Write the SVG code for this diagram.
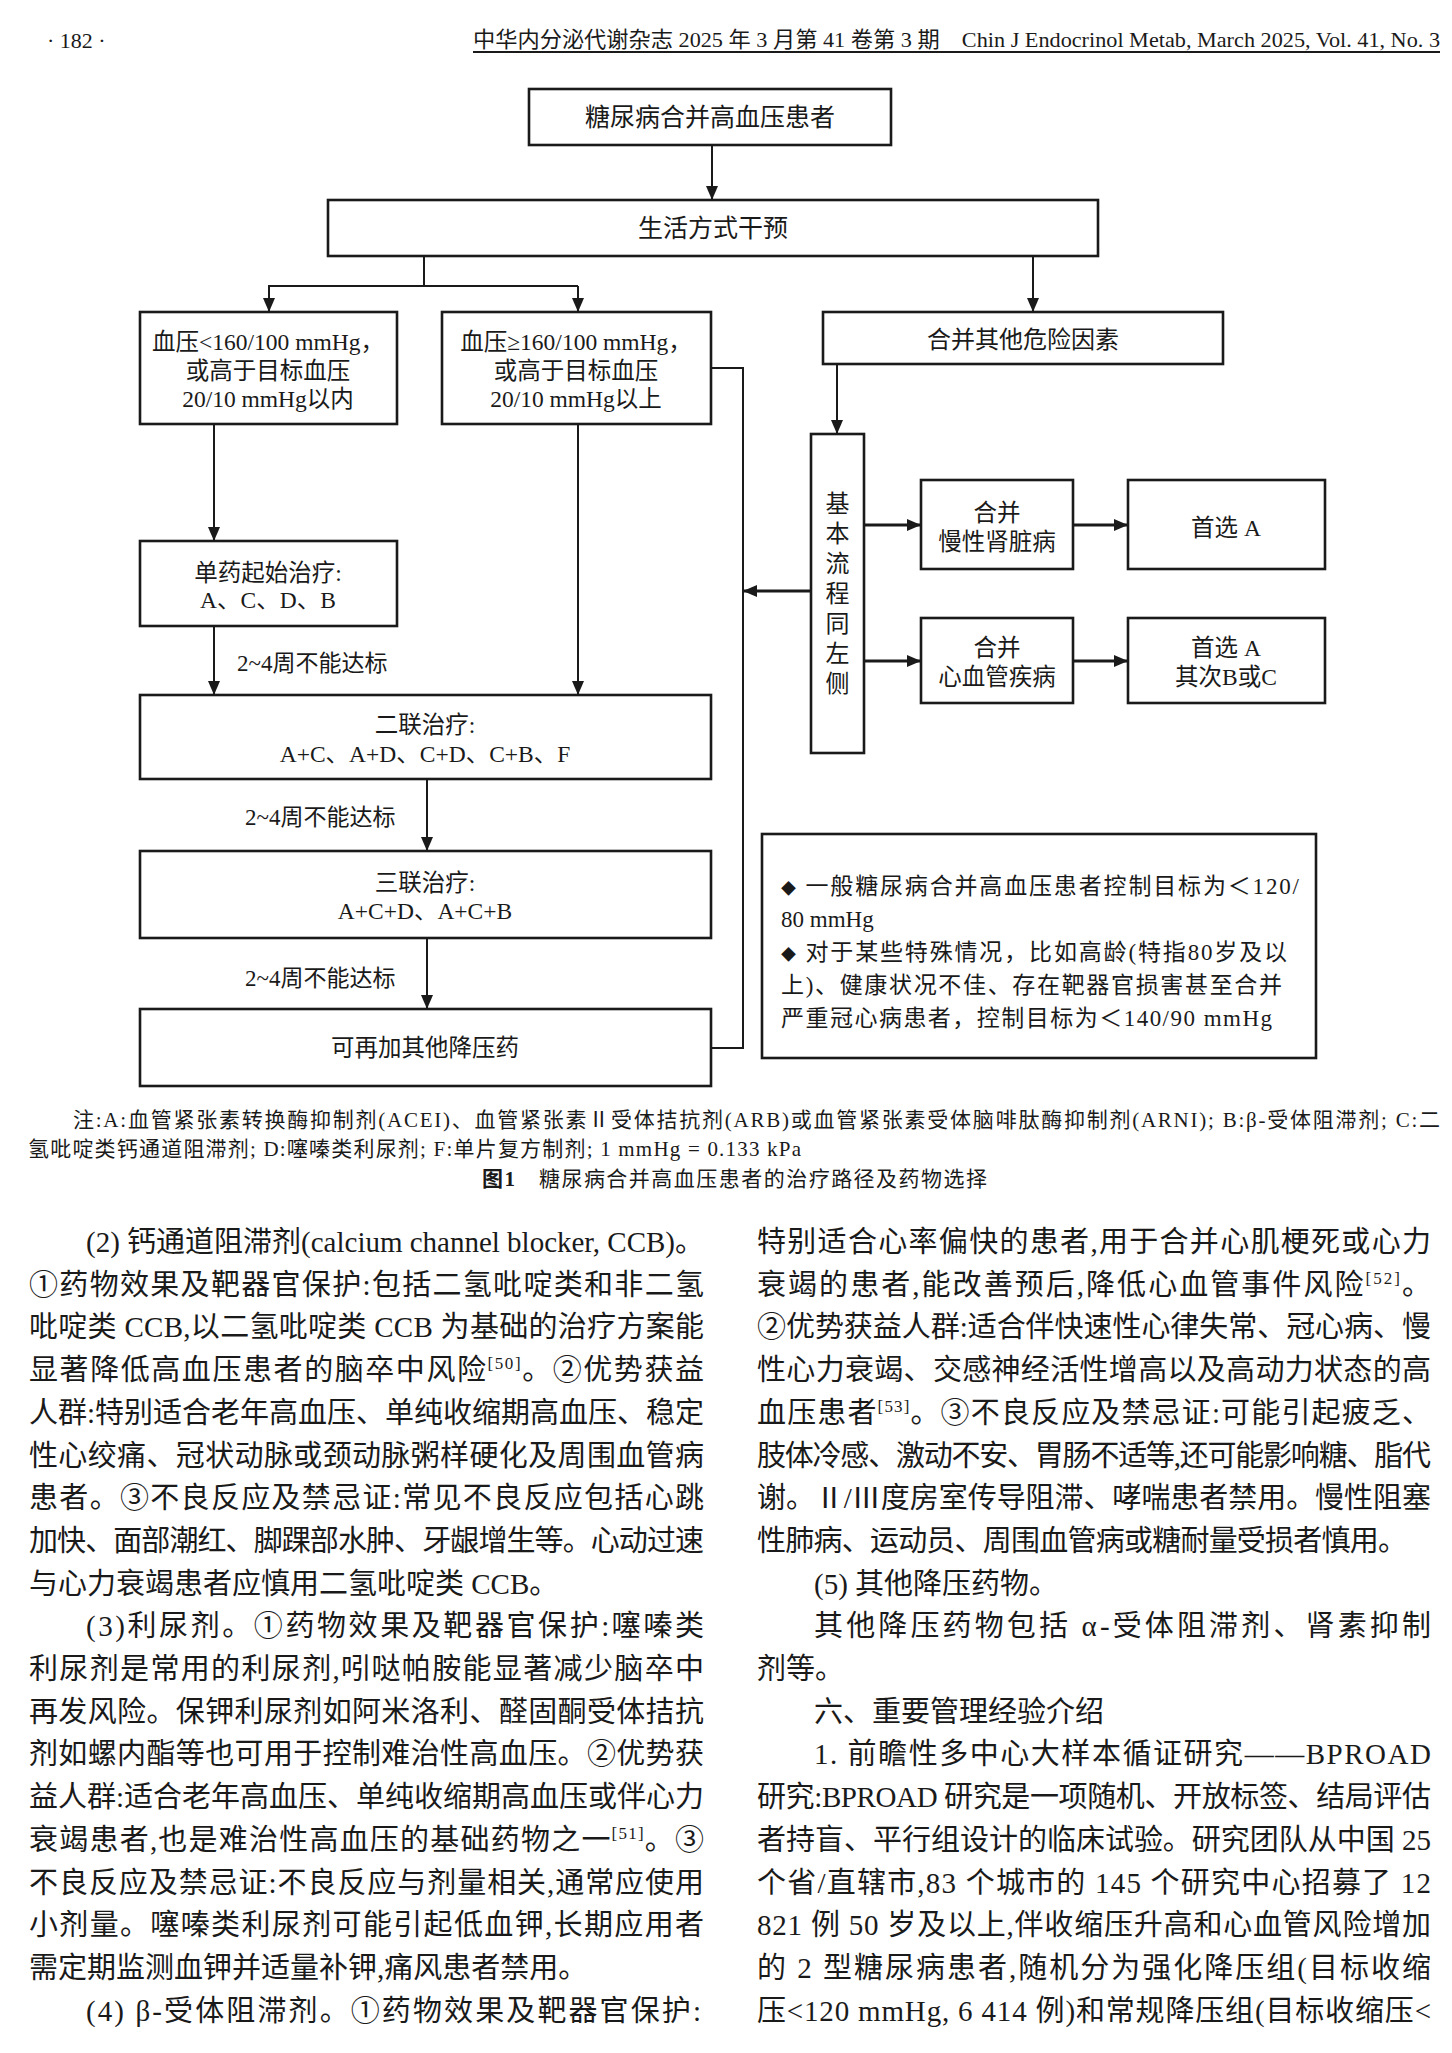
<svg xmlns="http://www.w3.org/2000/svg" width="1452" height="2053" viewBox="0 0 1452 2053">
<style>
text{font-family:"Liberation Serif","Noto Sans CJK SC",serif;fill:#1a1a1a}
.box{fill:#fff;stroke:#1a1a1a;stroke-width:2.6}
.ft{font-size:23.5px;text-anchor:middle}
.lbl{font-size:23px}
.note{font-size:23px}
.dia{font-size:15px}
.body{font-size:29px}
.cap{font-size:21px}
.hdr{font-size:22px}
.sup{font-size:17px}
.con{fill:none;stroke:#1a1a1a;stroke-width:2}
.conb{fill:none;stroke:#1a1a1a;stroke-width:3}
</style>
<defs>
<marker id="ah" markerUnits="userSpaceOnUse" markerWidth="14" markerHeight="12" refX="14" refY="6" orient="auto">
<path d="M0,0 L14,6 L0,12 z" fill="#1a1a1a"/>
</marker>
</defs>
<rect width="1452" height="2053" fill="#fff"/>

<!-- header -->
<g id="header">
<text class="hdr" x="47" y="48">· 182 ·</text>
<text class="hdr" x="473" y="47" textLength="967" lengthAdjust="spacingAndGlyphs">中华内分泌代谢杂志 2025 年 3 月第 41 卷第 3 期　Chin J Endocrinol Metab, March 2025, Vol. 41, No. 3</text>
<line x1="473" y1="52" x2="1440" y2="52" stroke="#1a1a1a" stroke-width="1.8"/>
</g>

<!-- connectors -->
<g id="connectors">
<line class="con" x1="712" y1="145" x2="712" y2="200" marker-end="url(#ah)"/>
<polyline class="con" points="424,256 424,286"/>
<polyline class="con" points="268,286 578,286"/>
<line class="con" x1="269" y1="286" x2="269" y2="312" marker-end="url(#ah)"/>
<line class="con" x1="578" y1="286" x2="578" y2="312" marker-end="url(#ah)"/>
<line class="con" x1="1033" y1="256" x2="1033" y2="312" marker-end="url(#ah)"/>
<polyline class="con" points="711,368 743,368 743,1048 711,1048"/>
<line class="con" x1="837" y1="364" x2="837" y2="434" marker-end="url(#ah)"/>
<line class="conb" x1="811" y1="591" x2="743" y2="591" marker-end="url(#ah)"/>
<line class="conb" x1="864" y1="525" x2="921" y2="525" marker-end="url(#ah)"/>
<line class="conb" x1="1073" y1="525" x2="1128" y2="525" marker-end="url(#ah)"/>
<line class="conb" x1="864" y1="661" x2="921" y2="661" marker-end="url(#ah)"/>
<line class="conb" x1="1073" y1="661" x2="1128" y2="661" marker-end="url(#ah)"/>
<line class="con" x1="214" y1="424" x2="214" y2="541" marker-end="url(#ah)"/>
<line class="con" x1="214" y1="626" x2="214" y2="695" marker-end="url(#ah)"/>
<line class="con" x1="578" y1="424" x2="578" y2="695" marker-end="url(#ah)"/>
<line class="con" x1="427" y1="779" x2="427" y2="851" marker-end="url(#ah)"/>
<line class="con" x1="427" y1="938" x2="427" y2="1009" marker-end="url(#ah)"/>
<text class="lbl" x="237" y="671">2~4周不能达标</text>
<text class="lbl" x="245" y="825">2~4周不能达标</text>
<text class="lbl" x="245" y="986">2~4周不能达标</text>
</g>

<!-- nodes -->
<g id="n-patient">
<rect class="box" x="529" y="89" width="362" height="56"/>
<text class="ft" x="710" y="126" style="font-size:25px">糖尿病合并高血压患者</text>
</g>
<g id="n-lifestyle">
<rect class="box" x="328" y="200" width="770" height="56"/>
<text class="ft" x="713" y="237" style="font-size:25px">生活方式干预</text>
</g>
<g id="n-low">
<rect class="box" x="140" y="312" width="257" height="112"/>
<text class="ft" x="268" y="350">血压&lt;160/100 mmHg，</text>
<text class="ft" x="268" y="379">或高于目标血压</text>
<text class="ft" x="268" y="407">20/10 mmHg以内</text>
</g>
<g id="n-high">
<rect class="box" x="442" y="312" width="269" height="112"/>
<text class="ft" x="576" y="350">血压≥160/100 mmHg，</text>
<text class="ft" x="576" y="379">或高于目标血压</text>
<text class="ft" x="576" y="407">20/10 mmHg以上</text>
</g>
<g id="n-risk">
<rect class="box" x="823" y="312" width="400" height="52"/>
<text class="ft" x="1023" y="348" style="font-size:24px">合并其他危险因素</text>
</g>
<g id="n-basic">
<rect class="box" x="811" y="434" width="53" height="319"/>
<text class="ft" style="font-size:24px"><tspan x="837.5" y="512">基</tspan><tspan x="837.5" dy="30">本</tspan><tspan x="837.5" dy="30">流</tspan><tspan x="837.5" dy="30">程</tspan><tspan x="837.5" dy="30">同</tspan><tspan x="837.5" dy="30">左</tspan><tspan x="837.5" dy="30">侧</tspan></text>
</g>
<g id="n-ckd">
<rect class="box" x="921" y="480" width="152" height="89"/>
<text class="ft" x="997" y="521">合并</text>
<text class="ft" x="997" y="550">慢性肾脏病</text>
</g>
<g id="n-ckd-a">
<rect class="box" x="1128" y="480" width="197" height="89"/>
<text class="ft" x="1226" y="536">首选 A</text>
</g>
<g id="n-cvd">
<rect class="box" x="921" y="618" width="152" height="85"/>
<text class="ft" x="997" y="656">合并</text>
<text class="ft" x="997" y="685">心血管疾病</text>
</g>
<g id="n-cvd-a">
<rect class="box" x="1128" y="618" width="197" height="85"/>
<text class="ft" x="1226" y="656">首选 A</text>
<text class="ft" x="1226" y="685">其次B或C</text>
</g>
<g id="n-mono">
<rect class="box" x="140" y="541" width="257" height="85"/>
<text class="ft" x="268" y="581">单药起始治疗:</text>
<text class="ft" x="268" y="608">A、C、D、B</text>
</g>
<g id="n-dual">
<rect class="box" x="140" y="695" width="571" height="84"/>
<text class="ft" x="425" y="733">二联治疗:</text>
<text class="ft" x="425" y="762">A+C、A+D、C+D、C+B、F</text>
</g>
<g id="n-triple">
<rect class="box" x="140" y="851" width="571" height="87"/>
<text class="ft" x="425" y="891">三联治疗:</text>
<text class="ft" x="425" y="919">A+C+D、A+C+B</text>
</g>
<g id="n-more">
<rect class="box" x="140" y="1009" width="571" height="77"/>
<text class="ft" x="425" y="1056">可再加其他降压药</text>
</g>
<g id="n-targets">
<rect class="box" x="762" y="834" width="554" height="224"/>
<text class="note" x="781" y="894" textLength="518" lengthAdjust="spacing"><tspan class="dia">◆</tspan> 一般糖尿病合并高血压患者控制目标为＜120/</text>
<text class="note" x="781" y="927">80 mmHg</text>
<text class="note" x="781" y="960" textLength="506" lengthAdjust="spacing"><tspan class="dia">◆</tspan> 对于某些特殊情况，比如高龄(特指80岁及以</text>
<text class="note" x="781" y="993" textLength="501" lengthAdjust="spacing">上)、健康状况不佳、存在靶器官损害甚至合并</text>
<text class="note" x="781" y="1026" textLength="491" lengthAdjust="spacing">严重冠心病患者，控制目标为＜140/90 mmHg</text>
</g>

<!-- figure notes and caption -->
<g id="caption">
<text class="cap" x="73" y="1127" textLength="1367" lengthAdjust="spacing">注:A:血管紧张素转换酶抑制剂(ACEI)、血管紧张素Ⅱ受体拮抗剂(ARB)或血管紧张素受体脑啡肽酶抑制剂(ARNI); B:β-受体阻滞剂; C:二</text>
<text class="cap" x="28" y="1156" textLength="773" lengthAdjust="spacing">氢吡啶类钙通道阻滞剂; D:噻嗪类利尿剂; F:单片复方制剂; 1 mmHg = 0.133 kPa</text>
<text class="cap" x="482" y="1186" textLength="505" lengthAdjust="spacing"><tspan font-weight="bold">图1</tspan>　糖尿病合并高血压患者的治疗路径及药物选择</text>
</g>

<!-- body text left column -->
<g id="body-left">
<text class="body" x="86" y="1252" textLength="618" lengthAdjust="spacing">(2) 钙通道阻滞剂(calcium channel blocker, CCB)。</text>
<text class="body" x="29" y="1294.7" textLength="675" lengthAdjust="spacing">①药物效果及靶器官保护:包括二氢吡啶类和非二氢</text>
<text class="body" x="29" y="1337.4" textLength="675" lengthAdjust="spacing">吡啶类 CCB,以二氢吡啶类 CCB 为基础的治疗方案能</text>
<text class="body" x="29" y="1380.1" textLength="675" lengthAdjust="spacing">显著降低高血压患者的脑卒中风险<tspan class="sup" dy="-11">[50]</tspan><tspan dy="11">。②优势获益</tspan></text>
<text class="body" x="29" y="1422.8" textLength="675" lengthAdjust="spacing">人群:特别适合老年高血压、单纯收缩期高血压、稳定</text>
<text class="body" x="29" y="1465.5" textLength="675" lengthAdjust="spacing">性心绞痛、冠状动脉或颈动脉粥样硬化及周围血管病</text>
<text class="body" x="29" y="1508.2" textLength="675" lengthAdjust="spacing">患者。③不良反应及禁忌证:常见不良反应包括心跳</text>
<text class="body" x="29" y="1550.9" textLength="675" lengthAdjust="spacing">加快、面部潮红、脚踝部水肿、牙龈增生等。心动过速</text>
<text class="body" x="29" y="1593.6">与心力衰竭患者应慎用二氢吡啶类 CCB。</text>
<text class="body" x="86" y="1636.3" textLength="618" lengthAdjust="spacing">(3)利尿剂。①药物效果及靶器官保护:噻嗪类</text>
<text class="body" x="29" y="1679" textLength="675" lengthAdjust="spacing">利尿剂是常用的利尿剂,吲哒帕胺能显著减少脑卒中</text>
<text class="body" x="29" y="1721.7" textLength="675" lengthAdjust="spacing">再发风险。保钾利尿剂如阿米洛利、醛固酮受体拮抗</text>
<text class="body" x="29" y="1764.4" textLength="675" lengthAdjust="spacing">剂如螺内酯等也可用于控制难治性高血压。②优势获</text>
<text class="body" x="29" y="1807.1" textLength="675" lengthAdjust="spacing">益人群:适合老年高血压、单纯收缩期高血压或伴心力</text>
<text class="body" x="29" y="1849.8" textLength="675" lengthAdjust="spacing">衰竭患者,也是难治性高血压的基础药物之一<tspan class="sup" dy="-11">[51]</tspan><tspan dy="11">。③</tspan></text>
<text class="body" x="29" y="1892.5" textLength="675" lengthAdjust="spacing">不良反应及禁忌证:不良反应与剂量相关,通常应使用</text>
<text class="body" x="29" y="1935.2" textLength="675" lengthAdjust="spacing">小剂量。噻嗪类利尿剂可能引起低血钾,长期应用者</text>
<text class="body" x="29" y="1977.9">需定期监测血钾并适量补钾,痛风患者禁用。</text>
<text class="body" x="86" y="2020.6" textLength="615" lengthAdjust="spacing">(4) β-受体阻滞剂。①药物效果及靶器官保护:</text>
</g>

<!-- body text right column -->
<g id="body-right">
<text class="body" x="757" y="1252" textLength="674" lengthAdjust="spacing">特别适合心率偏快的患者,用于合并心肌梗死或心力</text>
<text class="body" x="757" y="1294.7" textLength="674" lengthAdjust="spacing">衰竭的患者,能改善预后,降低心血管事件风险<tspan class="sup" dy="-11">[52]</tspan><tspan dy="11">。</tspan></text>
<text class="body" x="757" y="1337.4" textLength="674" lengthAdjust="spacing">②优势获益人群:适合伴快速性心律失常、冠心病、慢</text>
<text class="body" x="757" y="1380.1" textLength="674" lengthAdjust="spacing">性心力衰竭、交感神经活性增高以及高动力状态的高</text>
<text class="body" x="757" y="1422.8" textLength="674" lengthAdjust="spacing">血压患者<tspan class="sup" dy="-11">[53]</tspan><tspan dy="11">。③不良反应及禁忌证:可能引起疲乏、</tspan></text>
<text class="body" x="757" y="1465.5" textLength="674" lengthAdjust="spacing">肢体冷感、激动不安、胃肠不适等,还可能影响糖、脂代</text>
<text class="body" x="757" y="1508.2" textLength="674" lengthAdjust="spacing">谢。Ⅱ/Ⅲ度房室传导阻滞、哮喘患者禁用。慢性阻塞</text>
<text class="body" x="757" y="1550.9" textLength="650" lengthAdjust="spacing">性肺病、运动员、周围血管病或糖耐量受损者慎用。</text>
<text class="body" x="814" y="1593.6">(5) 其他降压药物。</text>
<text class="body" x="814" y="1636.3" textLength="617" lengthAdjust="spacing">其他降压药物包括 α-受体阻滞剂、肾素抑制</text>
<text class="body" x="757" y="1679">剂等。</text>
<text class="body" x="814" y="1721.7">六、重要管理经验介绍</text>
<text class="body" x="814" y="1764.4" textLength="617" lengthAdjust="spacing">1. 前瞻性多中心大样本循证研究——BPROAD</text>
<text class="body" x="757" y="1807.1" textLength="674" lengthAdjust="spacing">研究:BPROAD 研究是一项随机、开放标签、结局评估</text>
<text class="body" x="757" y="1849.8" textLength="674" lengthAdjust="spacing">者持盲、平行组设计的临床试验。研究团队从中国 25</text>
<text class="body" x="757" y="1892.5" textLength="674" lengthAdjust="spacing">个省/直辖市,83 个城市的 145 个研究中心招募了 12</text>
<text class="body" x="757" y="1935.2" textLength="674" lengthAdjust="spacing">821 例 50 岁及以上,伴收缩压升高和心血管风险增加</text>
<text class="body" x="757" y="1977.9" textLength="674" lengthAdjust="spacing">的 2 型糖尿病患者,随机分为强化降压组(目标收缩</text>
<text class="body" x="757" y="2020.6" textLength="674" lengthAdjust="spacing">压&lt;120 mmHg, 6 414 例)和常规降压组(目标收缩压&lt;</text>
</g>
</svg>
